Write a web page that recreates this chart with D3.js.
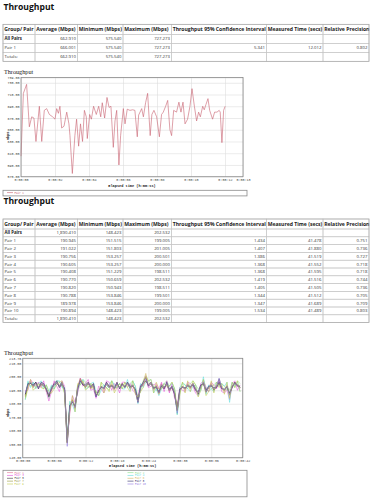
<!DOCTYPE html>
<html lang="en">
<head>
<meta charset="UTF-8">
<title>Throughput</title>
<script src="https://d3js.org/d3.v7.min.js"></script>
<style>
  body { margin: 0; background: #fff; }
  svg { display: block; }
  .h1 { font-family: "Open Sans", sans-serif; font-weight: bold; font-size: 8.6px; fill: #111; }
  .th { font-family: "Open Sans", sans-serif; font-weight: bold; font-size: 5.1px; fill: #222; }
  .td { font-family: "Open Sans", sans-serif; font-size: 4.3px; fill: #333; }
  .td.b { font-weight: bold; fill: #222; }
  .ctitle { font-family: "Liberation Serif", serif; font-size: 6.2px; fill: #222; }
  .tick text { font-family: "Liberation Mono", monospace; font-size: 3.4px; fill: #444; }
  .atitle { font-family: "Liberation Mono", monospace; font-weight: bold; font-size: 3.6px; fill: #222; }
  .leg { font-family: "Liberation Mono", monospace; font-size: 2.6px; }
</style>
</head>
<body>
<svg id="page" width="372" height="500"></svg>
<script>
// ---- table data ----
const headers = ["Group/ Pair", "Average (Mbps)", "Minimum (Mbps)", "Maximum (Mbps)",
  "Throughput 95% Confidence Interval", "Measured Time (secs)", "Relative Precision"];

const table1 = [
  ["All Pairs", "662.910", "575.540", "727.273", "", "", ""],
  ["Pair 1", "666.001", "575.540", "727.273", "5.341", "12.012", "0.802"],
  ["Totals:", "662.910", "575.540", "727.273", "", "", ""]
];

const table2 = [
  ["All Pairs", "1,890.410", "148.423", "202.532", "", "", ""],
  ["Pair 1", "190.945", "151.515", "199.005", "1.434", "41.478", "0.751"],
  ["Pair 2", "191.022", "151.803", "201.005", "1.407", "41.880", "0.736"],
  ["Pair 3", "190.756", "153.257", "200.501", "1.386", "41.519", "0.727"],
  ["Pair 4", "190.605", "153.257", "200.000", "1.368", "41.552", "0.718"],
  ["Pair 5", "190.408", "151.229", "198.511", "1.368", "41.595", "0.718"],
  ["Pair 6", "190.770", "150.659", "202.532", "1.419", "41.516", "0.744"],
  ["Pair 7", "190.820", "150.943", "198.511", "1.405", "41.505", "0.736"],
  ["Pair 8", "190.788", "153.846", "199.501", "1.344", "41.512", "0.705"],
  ["Pair 9", "189.978", "153.846", "200.000", "1.347", "41.689", "0.709"],
  ["Pair 10", "190.894", "148.423", "199.005", "1.534", "41.489", "0.803"],
  ["Totals:", "1,890.410", "148.423", "202.532", "", "", ""]
];

// ---- chart 1 (single pair, 12 s) ----
const times1 = [0, 0.14, 0.33, 0.49, 0.63, 0.76, 0.88, 1.08, 1.22, 1.37, 1.51, 1.67, 1.86, 2.0, 2.1, 2.2,
  2.29, 2.39, 2.53, 2.69, 2.82, 2.88, 3.02, 3.17, 3.27, 3.39, 3.5, 3.62, 3.73, 3.84, 3.9, 4.04, 4.14,
  4.27, 4.43, 4.57, 4.69, 4.78, 4.92, 5.06, 5.18, 5.29, 5.43, 5.53, 5.63, 5.76, 5.86, 6.02, 6.12, 6.25,
  6.41, 6.57, 6.7, 6.84, 6.92, 7.1, 7.2, 7.33, 7.45, 7.6, 7.7, 7.82, 7.98, 8.14, 8.27, 8.37, 8.51, 8.63,
  8.76, 8.86, 8.98, 9.15, 9.29, 9.41, 9.53, 9.65, 9.8, 9.94, 10.06, 10.2, 10.33, 10.45, 10.55, 10.69,
  10.78, 10.88, 11.0, 11.1, 11.27, 11.39, 11.53, 11.66, 11.72, 11.82, 11.92, 12.01];
const pair1Chart1 = [605, 712, 727.3, 655, 672, 670, 630, 690, 630, 683, 686, 676, 672, 668, 686, 678,
  690, 653, 656, 680, 660, 640, 575.5, 640, 668, 622, 660, 630, 683, 672, 635, 676, 668,
  690, 676, 690, 672, 696, 670, 705, 688, 690, 620, 665, 683, 590, 640, 686, 660, 685,
  683, 684, 683, 638, 675, 686, 672, 696, 712, 640, 676, 683, 672, 638, 676, 680, 690, 700,
  650, 640, 683, 680, 697, 680, 697, 660, 668, 690, 720, 690, 665, 680, 672, 690,
  684, 693, 703, 683, 668, 680, 680, 683, 680, 628, 683, 690];
const xTicks1 = [0, 2, 4, 6, 8, 10, 12, 13.06];
const yTicks1 = [570, 590, 610, 630, 650, 670, 690, 710, 730, 739];

// ---- chart 2 (ten pairs, 41.5 s) ----
const times2 = [0.5, 1, 1.5, 2, 2.5, 3, 3.5, 4, 4.5, 5, 5.5, 6, 6.5, 7, 7.5, 8, 8.5, 9, 9.5, 10,
  10.5, 11, 11.5, 12, 12.5, 13, 13.5, 14, 14.5, 15, 15.5, 16, 16.5, 17, 17.5, 18, 18.5, 19, 19.5, 20,
  20.5, 21, 21.5, 22, 22.5, 23, 23.5, 24, 24.5, 25, 25.5, 26, 26.5, 27, 27.5, 28, 28.5, 29, 29.5, 30,
  30.5, 31, 31.5, 32, 32.5, 33, 33.5, 34, 34.5, 35, 35.5, 36, 36.5, 37, 37.5, 38, 38.5, 39, 39.5, 40,
  40.5, 41, 41.5];
const pairNames = ["Pair 1", "Pair 2", "Pair 3", "Pair 4", "Pair 5", "Pair 6", "Pair 7", "Pair 8", "Pair 9", "Pair 10"];
const pairColors = ["#e07090", "#88e088", "#e050d8", "#60dede", "#383838", "#d4b460", "#98983c", "#2a2a66", "#c4cc50", "#9078e0"];
const pair1 = [186,195,197,192,196,191,194,195,190,187,
  190,195,197,192,194,191,151.5,177,183,176,
  193,199,194,192,196,191,195,185,190,192,
  190,196,193,193,190,196,191,195,192,196,
  191,193,189,181,193,194,197,193,195,190,
  194,187,195,191,194,189,192,187,176,191,
  192,190,195,191,194,190,187,194,195,188,
  193,195,190,192,194,191,189,194,186,192,
  196,193,191];
const pair2 = [183,196,193,196,192,195,194,191,194,184,
  193,191,197,196,193,188,151.8,181,179,180,
  189,195,198,196,192,195,191,189,186,196,
  194,192,190,197,193,192,195,191,196,192,
  195,197,193,185,189,197,201,197,195,194,
  190,191,191,195,197,193,196,191,172,187,
  196,194,191,195,197,194,191,190,198,192,
  189,191,194,196,194,195,193,190,190,196,
  192,197,195];
const pair3 = [190,190,198,195,193,196,192,197,189,182,
  189,197,193,189,197,193,153.3,173,186,181,
  188,199,193,195,198,190,191,184,193,191,
  188,197,196,190,195,193,188,196,196,193,
  195,190,188,186,194,193,200.5,192,193,194,
  195,191,196,189,197,188,195,184,179,192,
  190,189,196,195,193,188,186,195,197,192,
  189,196,194,191,197,189,188,190,183,195,
  197,190,194];
const pair4 = [183,197,192,196,191,195,197,192,194,189,
  194,191,197,197,192,192,153.3,182,179,174,
  194,194,198,191,192,195,196,189,186,190,
  194,192,194,197,194,192,195,191,191,198,
  190,197,193,180,195,192,196,197,198,188,
  191,186,191,195,193,193,195,191,172,192,
  195,194,191,189,193,194,186,190,200,187,
  194,191,189,196,193,195,193,196,181,196,
  193,196,189];
const pair5 = [187,194,195,193,196,192,195,193,191,186,
  191,194,195,193,196,190,151.2,178,182,178,
  192,197,194,193,195,192,194,186,189,193,
  191,195,192,194,191,195,192,194,193,195,
  192,194,190,181,192,195,197,194,196,191,
  193,188,194,192,195,190,193,188,175,190,
  193,191,194,192,195,191,187,193,195,189,
  192,194,190,193,198.5,192,190,193,187,193,
  195,194,192];
const pair6 = [186,193,196,192,195,193,195,194,191,186,
  190,194,196,194,195,190,150.7,177,182,177,
  193,197,196,193,195,191,194,186,189,193,
  191,195,193,194,191,194,192,195,193,195,
  192,194,189,182,192,196,202.5,194,196,191,
  193,187,194,192,195,190,192,188,175,191,
  193,191,194,192,195,191,188,193,196,189,
  192,194,191,193,195,192,190,193,187,193,
  196,194,192];
const pair7 = [185,194,196,193,195,192,194,194,190,186,
  191,194,196,193,194,190,150.9,178,183,177,
  192,198.5,195,192,195,192,194,186,189,193,
  191,194,192,194,191,195,192,194,193,195,
  192,194,190,182,192,195,197,194,196,191,
  193,188,194,192,194,190,193,188,175,190,
  193,191,194,192,195,191,188,193,196,189,
  192,194,191,193,195,192,190,193,187,193,
  195,194,192];
const pair8 = [187,195,195,194,196,191,196,195,191,185,
  192,195,197,192,195,191,153.8,179,181,178,
  191,197,194,194,196,193,195,185,190,192,
  192,196,193,193,192,196,191,195,192,196,
  193,193,191,183,193,196,199.5,193,195,192,
  192,189,193,191,196,191,192,187,176,191,
  192,192,193,193,194,190,189,194,195,190,
  193,193,192,192,196,191,191,192,188,192,
  196,193,193];
const pair9 = [184,191,198,190,192,195,192,191,194,189,
  188,191,194,196,197,187,153.8,175,186,174,
  195,194,197,190,192,195,191,189,186,196,
  188,192,189,197,188,192,195,191,196,192,
  189,197,187,185,189,192,200,197,198,188,
  196,191,191,195,193,193,196,191,176,187,
  196,188,197,189,197,194,185,190,198,186,
  189,197,188,196,192,195,187,196,184,196,
  192,197,189];
const pair10 = [188,194,196,193,195,192,195,194,191,187,
  191,194,196,193,195,190,148.4,178,182,177,
  192,197,195,193,195,192,194,185,189,193,
  191,195,192,194,191,195,192,194,193,195,
  192,194,190,181,192,195,198,194,196,191,
  193,188,194,192,195,190,193,188,173,190,
  193,191,194,192,195,191,188,193,196,189,
  192,194,191,193,199,192,190,193,187,193,
  195,194,192];
const pairSeries = [pair1, pair2, pair3, pair4, pair5, pair6, pair7, pair8, pair9, pair10];
const xTicks2 = [0, 6, 12, 18, 24, 30, 36, 42];
const yTicks2 = [140, 150, 160, 170, 180, 190, 200, 210, 213.7];

const svg = d3.select("#page");
const colX = [3, 35, 77.5, 123, 171.5, 266.5, 323, 369];

function drawTable(top, headH, rowH, rows) {
  const g = svg.append("g");
  const allRows = [headers].concat(rows);
  allRows.forEach((row, r) => {
    const y0 = r === 0 ? top : top + headH + (r - 1) * rowH;
    const h = r === 0 ? headH : rowH;
    row.forEach((cell, c) => {
      g.append("rect")
        .attr("x", colX[c]).attr("y", y0)
        .attr("width", colX[c + 1] - colX[c]).attr("height", h)
        .attr("fill", "none").attr("stroke", "#c6c6c6").attr("stroke-width", 0.6);
      const t = g.append("text")
        .attr("y", y0 + h * 0.68)
        .text(cell);
      if (r === 0) {
        t.attr("class", "th").attr("x", colX[c] + 1.2);
      } else if (c === 0) {
        t.attr("class", (r === 1 ? "td b" : "td")).attr("x", colX[c] + 1.5);
      } else {
        t.attr("class", "td").attr("x", colX[c + 1] - 1.5).attr("text-anchor", "end");
      }
    });
  });
  g.append("rect")
    .attr("x", colX[0]).attr("y", top)
    .attr("width", colX[colX.length - 1] - colX[0])
    .attr("height", headH + rows.length * rowH)
    .attr("fill", "none").attr("stroke", "#a8a8a8").attr("stroke-width", 0.7);
}

const fmtTime = s => "0:00:" + String(Math.floor(s)).padStart(2, "0");

function drawChart(cfg) {
  const g = svg.append("g");
  const x = d3.scaleLinear().domain(cfg.xDomain).range([cfg.left, cfg.right]);
  const y = d3.scaleLinear().domain(cfg.yDomain).range([cfg.bottom, cfg.top]);

  g.append("text").attr("class", "ctitle").attr("x", 4).attr("y", cfg.titleY).text("Throughput");

  const xa = g.append("g")
    .attr("transform", `translate(0,${cfg.bottom})`)
    .call(d3.axisBottom(x).tickValues(cfg.xTicks).tickSize(-(cfg.bottom - cfg.top))
      .tickPadding(1.6).tickFormat(fmtTime));
  const ya = g.append("g")
    .attr("transform", `translate(${cfg.left},0)`)
    .call(d3.axisLeft(y).tickValues(cfg.yTicks).tickSize(-(cfg.right - cfg.left))
      .tickPadding(1.4).tickFormat(d3.format(".2f")));
  [xa, ya].forEach(a => {
    a.select(".domain").remove();
    a.selectAll(".tick line").attr("stroke", "#dedede").attr("stroke-width", 0.6);
    a.selectAll(".tick text").attr("font-size", null).attr("font-family", null);
  });
  ya.selectAll(".tick text").attr("dy", "0.35em");
  xa.selectAll(".tick text").attr("dy", "0.9em");

  const line = d3.line().x(d => x(d[0])).y(d => y(d[1]));
  cfg.series.forEach(s => {
    g.append("path")
      .datum(cfg.times.map((t, i) => [t, s.values[i]]))
      .attr("fill", "none").attr("stroke", s.color).attr("stroke-width", cfg.lineW)
      .attr("stroke-linejoin", "round")
      .attr("d", line);
  });

  g.append("rect")
    .attr("x", cfg.left).attr("y", cfg.top)
    .attr("width", cfg.right - cfg.left).attr("height", cfg.bottom - cfg.top)
    .attr("fill", "none").attr("stroke", "#8a8a8a").attr("stroke-width", 0.8);

  g.append("text").attr("class", "atitle")
    .attr("x", (cfg.left + cfg.right) / 2).attr("y", cfg.xTitleY)
    .attr("text-anchor", "middle").text("Elapsed time (h:mm:ss)");
  g.append("text").attr("class", "atitle")
    .attr("transform", `translate(8.6,${cfg.yTitleY}) rotate(-90)`)
    .attr("text-anchor", "middle").text("Mbps");

  // legend
  const lg = g.append("g");
  lg.append("rect")
    .attr("x", 3).attr("y", cfg.legTop).attr("width", 244).attr("height", cfg.legH)
    .attr("fill", "none").attr("stroke", "#8a8a8a").attr("stroke-width", 0.8);
  cfg.series.forEach((s, i) => {
    const col = i % cfg.legCols, row = Math.floor(i / cfg.legCols);
    const lx = 7 + col * 120.5, ly = cfg.legTop + 2.3 + row * 2.85;
    lg.append("line").attr("x1", lx).attr("x2", lx + 6).attr("y1", ly).attr("y2", ly)
      .attr("stroke", s.color).attr("stroke-width", 0.6);
    lg.append("text").attr("class", "leg").attr("x", lx + 7.5).attr("y", ly + 0.9)
      .attr("fill", s.color).text(s.name);
  });
}

// page
svg.append("text").attr("class", "h1").attr("x", 3.5).attr("y", 10).text("Throughput");
drawTable(24.3, 10, 9, table1);

drawChart({
  left: 21, right: 243, top: 77.5, bottom: 176.7,
  xDomain: [0, 13.06], yDomain: [570, 739],
  xTicks: xTicks1, yTicks: yTicks1,
  times: times1,
  series: [{ name: "Pair 1", color: "#c8606e", values: pair1Chart1 }],
  lineW: 0.6, titleY: 74.4, xTitleY: 187, yTitleY: 136,
  legTop: 190.3, legH: 5.6, legCols: 1
});

svg.append("text").attr("class", "h1").attr("x", 3.5).attr("y", 204.3).text("Throughput");
drawTable(219, 10, 7.8, table2);

drawChart({
  left: 22.7, right: 242.7, top: 358.3, bottom: 457.7,
  xDomain: [0, 42], yDomain: [140, 213.7],
  xTicks: xTicks2, yTicks: yTicks2,
  times: times2,
  series: pairNames.map((n, i) => ({ name: n, color: pairColors[i], values: pairSeries[i] })),
  lineW: 0.55, titleY: 354.5, xTitleY: 467, yTitleY: 413,
  legTop: 470.3, legH: 26.5, legCols: 2
});
</script>
</body>
</html>
